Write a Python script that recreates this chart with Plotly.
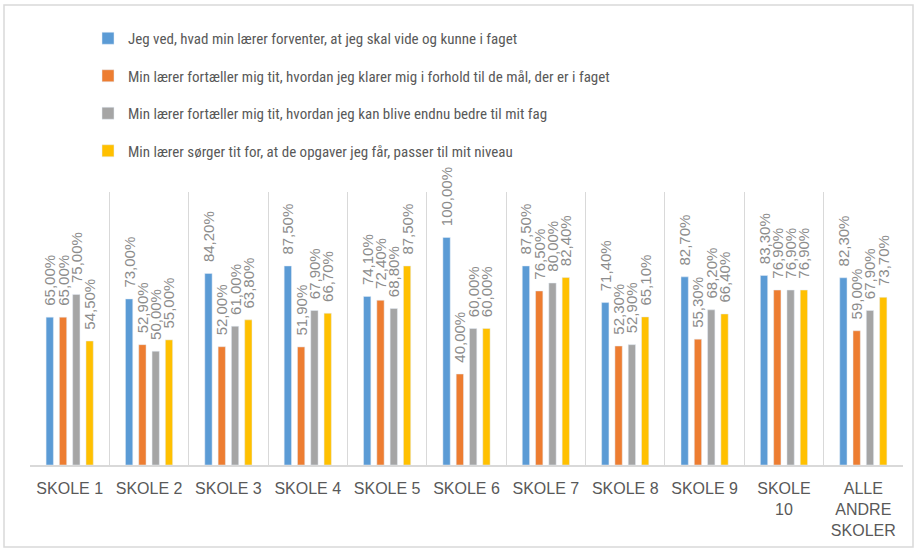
import plotly.graph_objects as go

categories = ["SKOLE 1", "SKOLE 2", "SKOLE 3", "SKOLE 4", "SKOLE 5", "SKOLE 6",
              "SKOLE 7", "SKOLE 8", "SKOLE 9", "SKOLE<br>10", "ALLE<br>ANDRE<br>SKOLER"]

series_names = [
    "Jeg ved, hvad min lærer forventer, at jeg skal vide og kunne i faget",
    "Min lærer fortæller mig tit, hvordan jeg klarer mig i forhold til de mål, der er i faget",
    "Min lærer fortæller mig tit, hvordan jeg kan blive endnu bedre til mit fag",
    "Min lærer sørger tit for, at de opgaver jeg får, passer til mit niveau",
]

forventer = [65.00, 73.00, 84.20, 87.50, 74.10, 100.00, 87.50, 71.40, 82.70, 83.30, 82.30]
maal = [65.00, 52.90, 52.00, 51.90, 72.40, 40.00, 76.50, 52.30, 55.30, 76.90, 59.00]
bedre = [75.00, 50.00, 61.00, 67.90, 68.80, 60.00, 80.00, 52.90, 68.20, 76.90, 67.90]
niveau = [54.50, 55.00, 63.80, 66.70, 87.50, 60.00, 82.40, 65.10, 66.40, 76.90, 73.70]

colors = ["#5b9bd5", "#ed7d31", "#a5a5a5", "#ffc000"]
values = [forventer, maal, bedre, niveau]

W, H = 918, 551
L, R, T, B = 30, 15, 192, 86
pw, ph = W - L - R, H - T - B

def px_x(p):
    return (p - L) / pw

def px_y(p):
    return (H - B - p) / ph

fig = go.Figure()
for i, (name, vals, col) in enumerate(zip(series_names, values, colors)):
    fig.add_trace(go.Bar(
        x=categories, y=vals, name=name, marker_color=col,
        legendgroup=f"g{i}",
        texttemplate="\u00a0\u00a0%{y:.2f}%",
        textposition="outside", textangle=-90, constraintext="none",
        cliponaxis=False,
        outsidetextfont=dict(family="Liberation Sans, Arial", size=15, color="#8c8c8c"),
        hoverinfo="skip",
    ))

fig.update_layout(
    width=W, height=H,
    margin=dict(l=L, r=R, t=T, b=B, autoexpand=False),
    paper_bgcolor="white", plot_bgcolor="white",
    separators=",.",
    barmode="group", bargap=0.33, bargroupgap=0.45,
    showlegend=True,
    legend=dict(
        x=px_x(88), y=px_y(22), xanchor="left", yanchor="top",
        traceorder="grouped", tracegroupgap=15,
        font=dict(family="Liberation Sans Narrow, Arial Narrow, Roboto Condensed, Roboto, Liberation Sans",
                  size=15, color="#595959"),
        bgcolor="rgba(0,0,0,0)",
    ),
    xaxis=dict(
        type="category", tickson="boundaries", showgrid=True, gridcolor="#d9d9d9", gridwidth=1,
        showline=True, linecolor="#d9d9d9", linewidth=1.5,
        ticks="", ticklabelstandoff=8, automargin=False,
        tickfont=dict(family="Liberation Sans, Arial", size=16, color="#595959"),
        tickangle=0, fixedrange=True,
    ),
    yaxis=dict(range=[0, 120], visible=False, fixedrange=True, automargin=False),
    shapes=[dict(
        type="rect", xref="paper", yref="paper",
        x0=px_x(4), x1=px_x(913), y0=px_y(547), y1=px_y(5),
        line=dict(color="#d9d9d9", width=1.5), fillcolor="rgba(0,0,0,0)", layer="below",
    )],
)

fig.write_html("out.html", config={"displayModeBar": False},
               post_script="document.body.style.margin='0';document.body.style.overflow='hidden';")
